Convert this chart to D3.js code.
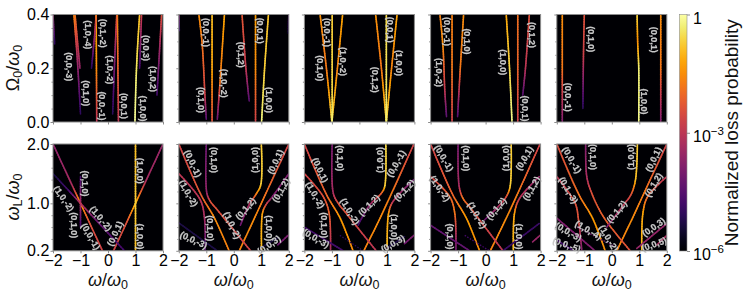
<!DOCTYPE html>
<html><head><meta charset="utf-8">
<script src="https://cdnjs.cloudflare.com/ajax/libs/d3/7.8.5/d3.min.js"></script>
<style>html,body{margin:0;padding:0;background:#fff}svg{display:block}text{font-family:"Liberation Sans",Arial,sans-serif}</style>
</head><body><svg id="c" width="747" height="296"></svg>
<script>
// Each curve: [omega/omega0, y value, normalized colour position in log loss probability]
const top1Curves=[
[[-2,.4,.4],[-1.94,.29,.15]],
[[-1.24,.4,.75],[-1.12,.24,.45],[-1.0,.03,.15]],
[[-1.2,.4,.7],[-1.02,.2,.4]],
[[-.43,.4,.8],[-.42,.2,.75],[-.41,0,.5]],
[[-.43,.4,.7],[-.48,.33,.45],[-.6,.2,.15]],
[[.34,.4,.75],[.36,.2,.65],[.38,0,.5]],
[[.32,.4,.65],[.26,.27,.4],[.17,.03,.15]],
[[1.15,.4,.85],[1.07,.27,.9],[1.02,.156,.95],[.98,0,.98]],
[[1.22,.4,.55],[1.15,.2,.2]],
[[1.95,.4,.6],[1.78,.1,.2]]];
const top2Curves=[
[[-2,.4,.35],[-1.98,.34,.15]],
[[-1.27,.4,.75],[-1.15,.29,.7],[-1.05,.1,.55],[-1,.01,.25]],
[[-.79,.4,.85],[-.79,.2,.8],[-.79,0,.6]],
[[-.34,.4,.8],[-.5,.15,.7],[-.6,.01,.3]],
[[.3,.4,.62],[.44,.2,.52],[.56,.078,.25]],
[[.79,.4,.78],[.79,.2,.75],[.79,0,.55]],
[[1.26,.4,.86],[1.12,.2,.88],[1.01,0,.96]],
[[2,.4,.25],[1.98,.33,.1]]];
const top3Curves=[
[[-1.43,.4,.76],[-1.2,.2,.7],[-1,0,.9]],
[[-.61,.4,.8],[-.8,.2,.73],[-1,0,.9]],
[[-.99,.4,.88],[-.99,.1,.9],[-.99,0,.95]],
[[.59,.4,.76],[.8,.2,.7],[.98,0,.9]],
[[1.37,.4,.8],[1.17,.2,.73],[.98,0,.9]],
[[.98,.4,.9],[.98,0,.95]]];
const top4Curves=[
[[-1.66,.4,.72],[-1.55,.28,.75],[-1.48,.11,.5],[-1.42,.02,.25]],
[[-1.22,.4,.72],[-1.22,.2,.7],[-1.22,0,.55]],
[[-.8,.4,.75],[-.92,.2,.7],[-1.02,.02,.25]],
[[.75,.4,.8],[.87,.2,.9],[.96,0,.97]],
[[1.17,.4,.68],[1.17,.2,.65],[1.17,0,.55]],
[[1.59,.4,.6],[1.45,.2,.5],[1.35,.1,.25]]];
const top5Curves=[
[[-1.8,.4,.75],[-1.8,.2,.7],[-1.8,0,.35]],
[[-1,.4,.6],[-1.03,.25,.55],[-1.05,.05,.15]],
[[.92,.4,.9],[.94,.3,.75],[.98,.2,.95],[.98,0,.97]],
[[1.78,.4,.75],[1.78,.2,.7],[1.78,0,.35]]];

const bot1Curves=[
[[-2,2,.38],[-1.3,1.3,.45],[-1,1,.8],[-.7,.7,.6],[-.2,.2,.55]],
[[.2,.2,.55],[.7,.7,.6],[1,1,.85],[1.4,1.4,.45],[2,2,.4]],
[[1,2,.85],[1,1,.88],[1,.2,.85]],
[[-1,1.45,.2],[-1,1,.45],[-1,.6,.2]],
[[-2,1.5,.1],[-1.4,1.2,.22],[-1,1,.5],[-.4,.7,.3],[.6,.2,.2]]];
const bot2Curves=[
[[-2,2,.55],[-1.2,1.15,.62],[-.7,.75,.75],[-.17,.2,.72]],
[[.2,.2,.72],[.7,.7,.75],[1.2,1.2,.68],[2,2,.55]],
[[1,2,.88],[.98,1.31,.88],[.79,1.14,.7],[.55,.97,.45],[.24,.63,.3]],
[[1.01,.2,.85],[1.04,.83,.8],[1.16,.97,.6],[1.4,1.11,.35],[2,1.5,.35]],
[[-1,2,.3],[-.98,1.17,.4],[-.85,1.03,.6],[-.6,.89,.6],[.61,.2,.55]],
[[-2,1.5,.5],[-1.22,1.06,.5],[-1.07,.77,.45],[-1.04,.2,.25]],
[[-2,.67,.12],[-.6,.2,.12]],
[[1.6,.3,.3],[2,.47,.35]],
[[.98,.25,.1],[1.6,.42,.1]]];
const bot3Curves=[
[[-2,2,.55],[-1.2,1.15,.65],[-.7,.75,.78],[-.23,.2,.75]],
[[.16,.2,.72],[.7,.7,.75],[1.2,1.2,.7],[1.98,2,.55]],
[[-.99,2,.33],[-.95,1.17,.45],[-.77,1,.6],[-.53,.86,.6],[.61,.2,.5]],
[[-2,1.5,.55],[-1.31,1.11,.6],[-1.1,.83,.65],[-1.05,.2,.45]],
[[.96,2,.9],[.92,1.28,.88],[.8,1.17,.65],[.37,.97,.4],[-.05,.63,.2]],
[[1.01,.2,.85],[1.06,.83,.8],[1.22,1.03,.5],[1.98,1.4,.3]],
[[-2,.6,.2],[-.59,.2,.2]],
[[1.64,.32,.3],[1.98,.46,.35]],
[[.98,.24,.12],[1.64,.44,.12]]];
const bot4Curves=[
[[-2,2,.55],[-1.2,1.15,.65],[-.7,.75,.78],[-.22,.2,.75]],
[[.17,.2,.72],[.7,.7,.75],[1.2,1.2,.7],[1.98,2,.55]],
[[-1,2,.33],[-.96,1.28,.45],[-.82,1.08,.7],[-.58,.94,.62],[.63,.2,.5]],
[[-2,1.45,.55],[-1.3,1.11,.65],[-1.12,.83,.7],[-1.08,.2,.3]],
[[.93,2,.88],[.89,1.28,.88],[.75,1.11,.6],[.45,.94,.45],[-.04,.72,.3]],
[[1.01,.2,.85],[1.05,.83,.8],[1.23,1.08,.5],[1.95,1.45,.4]],
[[-2,.63,.28],[-.58,.2,.28]],
[[.63,.2,.18],[1.95,.66,.18]],
[[1.71,.35,.4],[1.98,.46,.42]]];
const bot5Curves=[
[[-2,2,.58],[-1.2,1.15,.68],[-.7,.75,.78],[-.24,.2,.75]],
[[.18,.2,.72],[.7,.7,.75],[1.2,1.2,.7],[2,2,.55]],
[[-.95,2,.35],[-.91,1.45,.45],[-.73,1.17,.6],[-.3,.77,.65],[.67,.2,.6]],
[[-2,1.45,.5],[-1.33,1,.6],[-1.21,.72,.6],[-1.09,.2,.35]],
[[.93,2,.88],[.86,1.39,.85],[.69,1.14,.6],[.42,.97,.5],[-.18,.6,.35]],
[[1.09,.2,.85],[1.13,.83,.8],[1.3,1.11,.65],[2,1.45,.5]],
[[-2,.75,.35],[-.61,.2,.35]],
[[.91,.24,.4],[2,.66,.4]],
[[1.64,.3,.45],[2,.46,.45]],
[[-2,.38,.2],[-1.39,.2,.2]]];
const dottedCurves={bot3:[[[-.71,.46,.15],[.13,.2,.15]]],bot4:[[[-.76,.46,.2],[.14,.2,.2]]],bot5:[[[-1.27,.6,.3],[.12,.27,.3]]]};

// Mode labels: [text, omega, y, rotation in degrees]
const top1Labels=[["(0,0,-3)",-1.41,.206,90],["(1,0,-4)",-.74,.325,90],["(0,1,-2)",-.2,.33,90],["(0,1,0)",-.8,.107,90],["(1,0,-2)",.07,.194,90],["(0,0,-1)",-.23,.06,90],["(0,0,1)",.59,.06,90],["(0,0,3)",1.37,.275,90],["(1,0,2)",1.63,.16,90],["(1,0,0)",1.29,.05,90]];
const top2Labels=[["(0,0,-1)",-1,.333,90],["(0,1,0)",-1.2,.082,90],["(1,0,-2)",-.34,.144,90],["(0,1,2)",.27,.25,90],["(0,0,1)",.94,.34,90],["(1,0,0)",1.28,.082,90]];
const top3Labels=[["(0,0,-1)",-1.17,.333,90],["(0,1,0)",-1.43,.2,90],["(1,0,-2)",-.59,.225,90],["(0,1,2)",.55,.157,90],["(0,0,1)",1.1,.343,90],["(1,0,0)",1.43,.22,90]];
const top4Labels=[["(0,0,-1)",-1.42,.337,90],["(1,0,-2)",-1.69,.184,90],["(0,1,0)",-.66,.3,90],["(1,0,0)",.65,.222,90],["(0,1,2)",1.69,.324,90],["(0,0,1)",1.42,.05,90]];
const top5Labels=[["(0,1,0)",-.76,.308,90],["(0,0,-1)",-1.58,.092,90],["(0,0,1)",1.52,.306,90],["(1,0,0)",1.18,.076,90]];
const bot1Labels=[["(0,1,0)",-.84,1.336,90],["(1,0,-2)",-1.61,1.08,55],["(0,1,0)",-1.24,.63,90],["(0,0,-1)",-.63,.44,60],["(1,0,-2)",-.26,.745,50],["(0,0,1)",.26,.49,-65],["(1,0,0)",1.17,1.55,90],["(1,0,0)",1.17,.44,90]];
const bot2Labels=[["(0,0,-1)",-1.49,1.67,65],["(0,1,0)",-.73,1.73,90],["(1,0,-2)",-1.65,1.17,60],["(0,1,0)",-.85,.58,90],["(1,0,-2)",-.06,.63,65],["(0,1,2)",.43,.91,-50],["(1,0,0)",.76,1.73,-90],["(0,0,1)",1.52,1.7,-65],["(0,1,2)",1.71,1.22,-60],["(1,0,0)",1.28,.58,90],["(0,0,-3)",-1.46,.38,25],["(0,0,3)",1.28,.3,-35]];
const bot3Labels=[["(0,0,1)",-1.43,1.56,65],["(0,1,0)",-.71,1.76,90],["(1,0,-2)",-1.61,1.14,60],["(0,1,0)",-1.29,.63,90],["(0,0,-3)",-1.58,.41,30],["(1,0,-2)",-.35,.86,60],["(0,1,2)",.35,.97,-45],["(1,0,0)",.76,1.73,-90],["(0,0,-1)",1.34,1.67,-60],["(0,1,2)",1.64,1.22,-45],["(1,0,0)",1.24,.6,90],["(0,0,3)",1.22,.32,-30]];
const bot4Labels=[["(0,0,-1)",-1.52,1.76,60],["(0,1,0)",-.73,1.76,90],["(1,0,-2)",-1.66,1.25,55],["(0,1,0)",-1.28,.44,90],["(1,0,-2)",-.31,.8,60],["(0,1,2)",.39,.91,-50],["(1,0,0)",.75,1.76,-90],["(0,0,1)",1.41,1.76,-60],["(0,1,2)",1.67,1.25,-60],["(1,0,0)",1.2,.44,90]];
const bot5Labels=[["(0,0,-1)",-1.45,1.73,60],["(0,1,0)",-.7,1.78,90],["(0,1,-3)",-1.58,1.22,60],["(0,0,-3)",-1.58,.52,30],["(0,0,-5)",-1.64,.3,20],["(1,0,-4)",-.85,.55,30],["(1,0,-2)",-.12,.41,60],["(1,0,0)",.69,1.78,-90],["(0,0,1)",1.52,1.74,-65],["(0,1,2)",1.52,1.31,-60],["(0,1,2)",.18,.86,-50],["(0,0,3)",1.52,.6,-35],["(0,0,5)",1.54,.31,-20]];

const xTicks=[-2,-1,0,1,2];
const topYTicks=[0,.2,.4], topYMinor=[.05,.1,.15,.25,.3,.35];
const botYTicks=[.2,1,2], botYMinor=[.4,.6,.8,1.2,1.4,1.6,1.8];
const topCurves=[top1Curves,top2Curves,top3Curves,top4Curves,top5Curves];
const botCurves=[bot1Curves,bot2Curves,bot3Curves,bot4Curves,bot5Curves];
const topLabels=[top1Labels,top2Labels,top3Labels,top4Labels,top5Labels];
const botLabels=[bot1Labels,bot2Labels,bot3Labels,bot4Labels,bot5Labels];
const dottedBy=[[],[],dottedCurves.bot3,dottedCurves.bot4,dottedCurves.bot5];
const panelLefts=[53,178.8,304.4,430.6,556.8];
const panelW=110;
const GRAY="#8c8c8c";
const FF='"Liberation Sans",Arial,sans-serif';
const fmt=v=>String(v).replace("-","\u2212");

const svg=d3.select("#c");
const defs=svg.append("defs");
const blur=defs.append("filter").attr("id","soft").attr("filterUnits","userSpaceOnUse").attr("x",0).attr("y",0).attr("width",747).attr("height",296);
blur.append("feGaussianBlur").attr("stdDeviation",0.45);
const tblur=defs.append("filter").attr("id","tsoft").attr("filterUnits","userSpaceOnUse").attr("x",0).attr("y",0).attr("width",747).attr("height",296);
tblur.append("feGaussianBlur").attr("stdDeviation",0.42);

function panel(i,row,curves,labels,dotted){
  const top=row===0?14.5:144, h=row===0?107.5:106.8, left=panelLefts[i];
  const x=d3.scaleLinear([-2,2],[left,left+panelW]);
  const y=row===0?d3.scaleLinear([0,.4],[top+h,top]):d3.scaleLinear([.2,2],[top+h,top]);
  const id=`clip${row}${i}`;
  defs.append("clipPath").attr("id",id).append("rect").attr("x",left).attr("y",top).attr("width",panelW).attr("height",h);
  svg.append("rect").attr("x",left).attr("y",top).attr("width",panelW).attr("height",h).attr("fill",d3.interpolateInferno(0));
  const g=svg.append("g").attr("clip-path",`url(#${id})`).append("g").attr("filter","url(#soft)");
  const line=d3.line().x(d=>x(d[0])).y(d=>y(d[1])).curve(d3.curveCatmullRom.alpha(.5));
  const seg=d3.line();
  const draw=c=>{
    // follow the smooth curve through the read points and colour it along its length
    const tmp=g.append("path").attr("d",line(c)).attr("fill","none");
    const node=tmp.node(), L=node.getTotalLength();
    const cum=[0];
    for(let k=1;k<c.length;k++){cum.push(cum[k-1]+Math.hypot(x(c[k][0])-x(c[k-1][0]),y(c[k][1])-y(c[k-1][1])));}
    const col=d3.scaleLinear(cum.map(d=>d/cum[cum.length-1]),c.map(d=>d[2]));
    const n=Math.max(2,Math.ceil(L/2.5));
    for(let s=0;s<n;s++){
      const a=node.getPointAtLength(L*s/n), b=node.getPointAtLength(L*(s+1)/n);
      g.append("path").attr("d",seg([[a.x,a.y],[b.x,b.y]])).attr("fill","none")
        .attr("stroke",d3.interpolateInferno(col((s+.5)/n))).attr("stroke-width",1.6).attr("stroke-linecap","round");
    }
    tmp.remove();
  };
  curves.forEach(draw);
  (dotted||[]).forEach(c=>{
    g.append("path").attr("d",d3.line().x(d=>x(d[0])).y(d=>y(d[1]))(c)).attr("fill","none").attr("stroke",d3.interpolateInferno(c[0][2]))
      .attr("stroke-width",1.4).attr("stroke-dasharray","1.5,1.5");
  });
  const lg=svg.append("g").attr("filter","url(#tsoft)");
  lg.selectAll("text").data(labels).join("text")
    .attr("transform",d=>`translate(${x(d[1])},${y(d[2])}) rotate(${d[3]})`)
    .attr("text-anchor","middle").attr("dominant-baseline","central")
    .attr("font-size",9).attr("font-weight","bold").attr("fill","#c8c8c8").attr("stroke","#c8c8c8").attr("stroke-width",.25).text(d=>d[0]);
  // axes
  const ax=svg.append("g").attr("transform",`translate(0,${top+h})`)
    .call(d3.axisBottom(x).tickValues(xTicks).tickSize(2.5).tickPadding(1.5).tickFormat(row===1?fmt:""));
  ax.selectAll("text").attr("font-size",16).attr("fill","#000").style("font-family",FF);
  const ticks=row===0?topYTicks:botYTicks, minor=row===0?topYMinor:botYMinor;
  const ay=svg.append("g").attr("transform",`translate(${left},0)`)
    .call(d3.axisLeft(y).tickValues(ticks).tickSize(2.5).tickPadding(1.2).tickFormat(i===0?d3.format(".1f"):""));
  ay.selectAll("text").attr("font-size",16).attr("fill","#000").style("font-family",FF);
  svg.append("g").attr("transform",`translate(${left},0)`).call(d3.axisLeft(y).tickValues(minor).tickSize(1.5).tickFormat(""))
    .call(s=>s.select(".domain").remove()).selectAll("line").attr("stroke",GRAY);
  [ax,ay].forEach(a=>{a.selectAll("line").attr("stroke",GRAY);a.select(".domain").remove();});
  svg.append("rect").attr("x",left).attr("y",top).attr("width",panelW).attr("height",h).attr("fill","none").attr("stroke",GRAY).attr("stroke-width",1);
  if(row===1){
    const t=svg.append("text").attr("x",left+panelW/2).attr("y",286).attr("text-anchor","middle").attr("font-size",18).attr("fill","#111");
    t.append("tspan").attr("font-style","italic").text("\u03c9");
    t.append("tspan").text("/");
    t.append("tspan").attr("font-style","italic").text("\u03c9");
    t.append("tspan").attr("font-size",12.5).attr("dy",3).text("0");
  }
}
topCurves.forEach((c,i)=>panel(i,0,c,topLabels[i]));
botCurves.forEach((c,i)=>panel(i,1,c,botLabels[i],dottedBy[i]));

function ylab(cx,cy,parts){
  const t=svg.append("text").attr("transform",`translate(${cx},${cy}) rotate(-90)`).attr("text-anchor","middle").attr("font-size",18).attr("fill","#111");
  parts.forEach(p=>{
    const s=t.append("tspan").text(p.t);
    if(p.i)s.attr("font-style","italic");
    if(p.s)s.attr("font-size",12.5);
    if(p.d)s.attr("dy",p.d);
  });
}
const Om="\u03a9",om="\u03c9";
ylab(19,68,[{t:Om,i:0},{t:"0",s:1,d:3},{t:"/",d:-3},{t:om,i:1},{t:"0",s:1,d:3}]);
ylab(19,197,[{t:om,i:1},{t:"L",s:1,d:3},{t:"/",d:-3},{t:om,i:1},{t:"0",s:1,d:3}]);

// colour bar
const cbTop=14.5,cbBot=251,cbL=679.5,cbW=7.5;
const logs=[0,-3,-6];
const cy=d3.scaleLinear([-6,0],[cbBot,cbTop]);
const grad=defs.append("linearGradient").attr("id","cb").attr("x1",0).attr("x2",0).attr("y1",1).attr("y2",0);
d3.range(0,1.001,.05).forEach(t=>grad.append("stop").attr("offset",t).attr("stop-color",d3.interpolateInferno(t)));
svg.append("rect").attr("x",cbL).attr("y",cbTop).attr("width",cbW).attr("height",cbBot-cbTop).attr("fill","url(#cb)").attr("stroke",GRAY).attr("stroke-width",.6);
svg.append("g").attr("transform",`translate(${cbL+cbW},0)`)
  .call(d3.axisRight(cy).tickValues(logs).tickSize(3).tickFormat(""))
  .call(s=>s.select(".domain").remove()).selectAll("line").attr("stroke",GRAY);
svg.append("g").selectAll("text").data(logs).join("text")
  .attr("x",cbL+cbW+6).attr("y",d=>cy(d)+9).attr("font-size",16).attr("fill","#000")
  .each(function(d){
    const s=d3.select(this);
    if(d===0){s.text("1");}
    else{s.append("tspan").text("10");s.append("tspan").attr("font-size",11.5).attr("dy",-7).text("\u2212"+(-d));}
  });
svg.append("text").attr("transform",`translate(738,${(cbTop+cbBot)/2}) rotate(-90)`).attr("text-anchor","middle").attr("font-size",19).attr("fill","#111").text("Normalized loss probability");
</script></body></html>
